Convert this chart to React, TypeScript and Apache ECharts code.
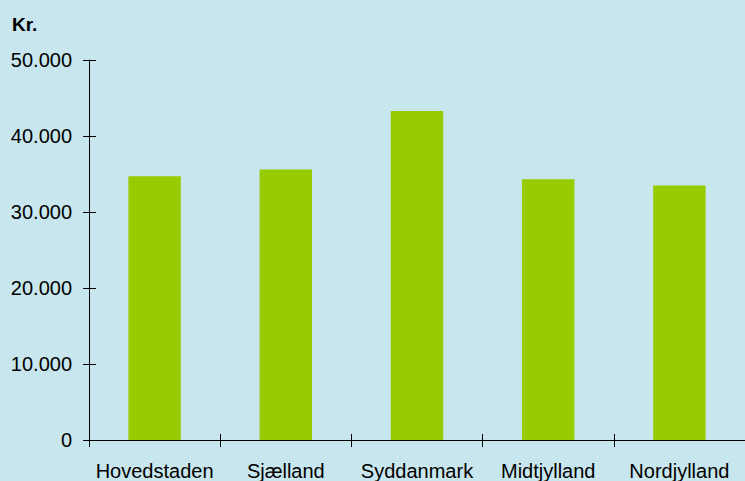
import React, { useEffect, useRef } from "react";
import * as echarts from "echarts";

const categories = ["Hovedstaden", "Sjælland", "Syddanmark", "Midtjylland", "Nordjylland"];
const values = [34700, 35600, 43300, 34300, 33500];
const yTicks = [0, 10000, 20000, 30000, 40000, 50000];
const yTitle = "Kr.";

const FONT = 'Arial, "Liberation Sans", sans-serif';

function fmt(v: number): string {
  return String(Math.round(v)).replace(/\B(?=(\d{3})+(?!\d))/g, ".");
}

export default function App() {
  const ref = useRef<HTMLDivElement>(null);
  useEffect(() => {
    if (!ref.current) return;
    document.body.style.margin = "0";
    const chart = echarts.init(ref.current, undefined, { renderer: "svg" });
    const yMax = yTicks[yTicks.length - 1];
    const yInt = yTicks[1] - yTicks[0];
    chart.setOption({
      animation: false,
      backgroundColor: "#c8e6ee",
      grid: { left: 89, right: 0, top: 60, bottom: 38 },
      graphic: [
        {
          type: "text",
          left: 12,
          top: 15,
          style: { text: yTitle, font: `bold 19px ${FONT}`, fill: "#000" },
        },
      ],
      xAxis: [
        {
          type: "category",
          data: categories,
          axisLine: { show: true, lineStyle: { color: "#000", width: 1 } },
          axisTick: { show: true, length: 7, lineStyle: { color: "#000" } },
          axisLabel: { color: "#000", fontSize: 20, fontFamily: FONT, margin: 21, interval: 0 },
          splitLine: { show: false },
        },
        {
          type: "category",
          data: categories,
          position: "bottom",
          axisLine: { show: false },
          axisTick: { show: true, inside: true, length: 6, lineStyle: { color: "#000" } },
          axisLabel: { show: false },
          splitLine: { show: false },
        },
      ],
      yAxis: [
        {
          type: "value",
          min: 0,
          max: yMax,
          interval: yInt,
          axisLine: { show: true, lineStyle: { color: "#000", width: 1 } },
          axisTick: { show: true, length: 6, lineStyle: { color: "#000" } },
          axisLabel: {
            color: "#000",
            fontSize: 20,
            fontFamily: FONT,
            margin: 17,
            formatter: (v: number) => fmt(v),
          },
          splitLine: { show: false },
        },
        {
          type: "value",
          min: 0,
          max: yMax,
          interval: yInt,
          position: "left",
          axisLine: { show: false },
          axisTick: { show: true, inside: true, length: 7, lineStyle: { color: "#000" } },
          axisLabel: { show: false },
          splitLine: { show: false },
        },
      ],
      series: [
        {
          type: "bar",
          data: values,
          barWidth: "40%",
          itemStyle: { color: "#99cc00" },
          xAxisIndex: 0,
          yAxisIndex: 0,
        },
      ],
    });
    return () => chart.dispose();
  }, []);
  return (
    <div
      ref={ref}
      style={{ position: "fixed", left: 0, top: 0, width: 745, height: 481 }}
    />
  );
}
